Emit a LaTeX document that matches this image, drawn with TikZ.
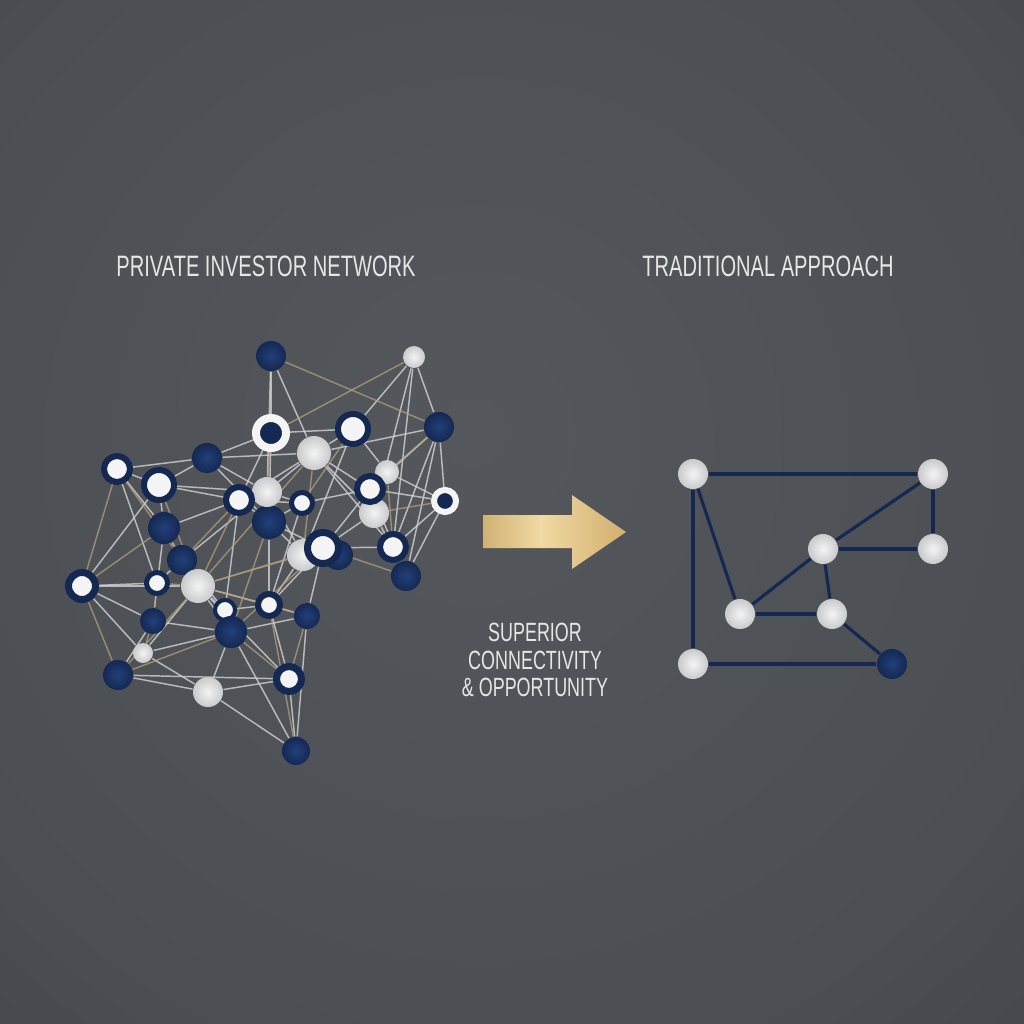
\documentclass[tikz,border=0pt]{standalone}
\usepackage{fontspec}
\newfontfamily\labelfont[FakeStretch=0.68]{Liberation Sans}
\usetikzlibrary{backgrounds}

\definecolor{navy}{HTML}{142852}
\definecolor{navylight}{HTML}{24407A}
\definecolor{pearl}{HTML}{F4F4F4}
\definecolor{pearlshade}{HTML}{C9CACC}
\definecolor{silverline}{HTML}{D2D3D4}
\definecolor{goldline}{HTML}{B3A27A}
\definecolor{bgmid}{HTML}{54585D}
\definecolor{bgedge}{HTML}{3A3C40}
\definecolor{goldA}{HTML}{AE8843}
\definecolor{goldB}{HTML}{F0D9A2}
\definecolor{goldC}{HTML}{C39A56}
\definecolor{captiongray}{HTML}{E6E6E6}

\pgfdeclareradialshading{bgglow}{\pgfpoint{-2bp}{4bp}}{color(0bp)=(bgmid); color(30bp)=(bgmid!65!bgedge); color(55bp)=(bgedge); color(80bp)=(bgedge)}
\pgfdeclarehorizontalshading{goldsheen}{100bp}{color(0bp)=(goldA); color(10bp)=(goldA!85!goldB); color(45bp)=(goldB); color(72bp)=(goldB!40!goldC); color(100bp)=(goldA)}

\pgfdeclarelayer{backdrop}
\pgfdeclarelayer{links}
\pgfsetlayers{backdrop,links,main}

\begin{document}
\begin{tikzpicture}[
  x=0.01cm, y=-0.01cm,
  heading/.style={font=\labelfont\fontsize{8.4}{10}\selectfont, text=captiongray, inner sep=0pt},
  caption/.style={font=\labelfont\fontsize{7.5}{7.8}\selectfont, text=captiongray, align=center, inner sep=0pt},
  % network node styles
  hub/.style={circle, inner sep=0pt, shading=radial, inner color=navylight, outer color=navy},
  peer/.style={circle, inner sep=0pt, shading=radial, inner color=pearl, outer color=pearlshade},
  ringd/.style={circle, inner sep=0pt, fill=pearl, draw=navy},
  ringw/.style={circle, inner sep=0pt, fill=navy, draw=pearl},
  silverlink/.style={draw=silverline, line width=0.42pt, opacity=0.8},
  goldlink/.style={draw=goldline, line width=0.4pt, opacity=0.75},
  tradlink/.style={draw=navy, line width=0.9pt},
  tradnode/.style={peer, minimum size=0.3cm}
]

% Background
\begin{pgfonlayer}{backdrop}
  \path[shading=bgglow] (0,0) rectangle (1024,1024);
\end{pgfonlayer}
\useasboundingbox (0,0) rectangle (1024,1024);

% ============================================
% HEADINGS
% ============================================
\node[heading] (nettitle) at (266,266) {PRIVATE INVESTOR NETWORK};
\node[heading] (tradtitle) at (768,266) {TRADITIONAL APPROACH};

% ============================================
% PRIVATE INVESTOR NETWORK (left)
% ============================================
\node[hub, minimum size=0.30cm] (p1) at (271,356) {};
\node[peer, minimum size=0.22cm] (p2) at (414,357) {};
\node[ringw, minimum size=0.30cm, line width=0.08cm] (p3) at (271,433) {};
\node[ringd, minimum size=0.30cm, line width=0.06cm] (p4) at (353,429) {};
\node[hub, minimum size=0.30cm] (p5) at (439,427) {};
\node[peer, minimum size=0.34cm] (p6) at (314,453) {};
\node[hub, minimum size=0.30cm] (p7) at (207,458) {};
\node[ringd, minimum size=0.26cm, line width=0.06cm] (p8) at (117,469) {};
\node[ringd, minimum size=0.30cm, line width=0.06cm] (p9) at (159,485) {};
\node[peer, minimum size=0.24cm] (p10) at (387,472) {};
\node[hub, minimum size=0.34cm] (p16) at (269,522) {};
\node[peer, minimum size=0.30cm] (p11) at (267,492) {};
\node[ringd, minimum size=0.26cm, line width=0.06cm] (p12) at (239,500) {};
\node[ringd, minimum size=0.21cm, line width=0.05cm] (p13) at (302,503) {};
\node[peer, minimum size=0.30cm] (p17) at (374,513) {};
\node[ringd, minimum size=0.26cm, line width=0.06cm] (p14) at (370,489) {};
\node[ringw, minimum size=0.22cm, line width=0.06cm] (p15) at (445,501) {};
\node[hub, minimum size=0.32cm] (p18) at (164,528) {};
\node[peer, minimum size=0.32cm] (p19) at (303,555) {};
\node[hub, minimum size=0.30cm] (p20b) at (338,555) {};
\node[ringd, minimum size=0.31cm, line width=0.07cm] (p20) at (323,548) {};
\node[ringd, minimum size=0.26cm, line width=0.06cm] (p21) at (393,547) {};
\node[hub, minimum size=0.30cm] (p22) at (406,576) {};
\node[hub, minimum size=0.30cm] (p23) at (182,560) {};
\node[ringd, minimum size=0.27cm, line width=0.07cm] (p24) at (82,586) {};
\node[ringd, minimum size=0.21cm, line width=0.05cm] (p25) at (157,583) {};
\node[peer, minimum size=0.34cm] (p26) at (198,586) {};
\node[ringd, minimum size=0.20cm, line width=0.04cm] (p27) at (225,610) {};
\node[ringd, minimum size=0.22cm, line width=0.06cm] (p28) at (269,605) {};
\node[hub, minimum size=0.26cm] (p29) at (307,616) {};
\node[hub, minimum size=0.26cm] (p30) at (153,621) {};
\node[hub, minimum size=0.32cm] (p31) at (231,632) {};
\node[peer, minimum size=0.20cm] (p32) at (143,653) {};
\node[hub, minimum size=0.30cm] (p33) at (118,675) {};
\node[peer, minimum size=0.30cm] (p34) at (208,692) {};
\node[ringd, minimum size=0.25cm, line width=0.07cm] (p35) at (289,679) {};
\node[hub, minimum size=0.28cm] (p36) at (296,751) {};

% links (behind the nodes)
\begin{pgfonlayer}{links}
\foreach \a/\b in {p1/p3, p1/p6, p1/p11, p2/p4, p2/p5, p2/p17, p2/p21,
  p3/p7, p3/p12, p3/p16, p3/p4, p4/p6, p4/p10, p4/p19, p5/p14, p5/p21,
  p5/p15, p5/p22, p6/p7, p6/p12, p6/p14, p6/p21, p6/p23, p7/p8, p7/p9,
  p7/p16, p8/p9, p8/p18, p8/p25, p9/p12, p9/p24, p9/p11, p10/p14, p10/p15,
  p11/p13, p11/p19, p12/p16, p12/p18, p12/p27, p13/p14, p13/p16, p13/p28,
  p14/p20, p14/p22, p15/p21, p15/p22, p16/p19, p16/p28, p17/p20, p17/p22,
  p18/p23, p18/p30, p19/p28, p20/p21, p20/p29, p23/p25, p23/p27, p24/p25,
  p24/p30, p24/p32, p26/p28, p26/p31, p26/p32, p26/p35, p27/p28, p28/p35,
  p29/p36, p30/p31, p31/p34, p31/p36, p32/p34, p33/p34, p34/p35, p34/p36,
  p35/p36, p29/p31, p5/p6, p6/p17, p7/p11, p9/p18, p10/p17, p12/p13,
  p14/p15, p16/p20, p19/p20, p20/p28, p24/p26, p26/p27, p28/p29, p30/p33,
  p31/p32, p33/p35}
  \draw[silverlink] (\a) -- (\b);
\foreach \a/\b in {p1/p5, p2/p3, p3/p11, p4/p13, p5/p10, p6/p19, p6/p26,
  p8/p23, p8/p24, p9/p26, p10/p21, p11/p16, p12/p23, p12/p26, p14/p17,
  p15/p17, p16/p31, p17/p21, p18/p24, p18/p26, p19/p26, p20/p22, p20/p26,
  p20/p31, p24/p33, p25/p26, p25/p30, p26/p29, p26/p33, p27/p31, p28/p36,
  p29/p35, p30/p32, p31/p33, p31/p35}
  \draw[goldlink] (\a) -- (\b);
\end{pgfonlayer}

% ============================================
% ARROW AND CAPTION
% ============================================
\path[shading=goldsheen]
  (483,515) -- (572,515) -- (572,495) -- (626,532) -- (572,569)
  -- (572,548) -- (483,548) -- cycle;

\node[caption] (gain) at (535,660) {SUPERIOR\\CONNECTIVITY\\\& OPPORTUNITY};

% ============================================
% TRADITIONAL APPROACH (right)
% ============================================
\node[tradnode] (t1) at (693,474) {};
\node[tradnode] (t2) at (933,474) {};
\node[tradnode] (t3) at (823,549) {};
\node[tradnode] (t4) at (933,549) {};
\node[tradnode] (t5) at (740,614) {};
\node[tradnode] (t6) at (832,614) {};
\node[tradnode] (t7) at (693,664) {};
\node[hub, minimum size=0.3cm] (t8) at (892,664) {};

\begin{pgfonlayer}{links}
\foreach \a/\b in {t1/t2, t1/t7, t1/t5, t2/t4, t2/t3, t3/t4, t3/t5,
  t3/t6, t5/t6, t6/t8, t7/t8}
  \draw[tradlink] (\a) -- (\b);
\end{pgfonlayer}

\end{tikzpicture}
\end{document}
